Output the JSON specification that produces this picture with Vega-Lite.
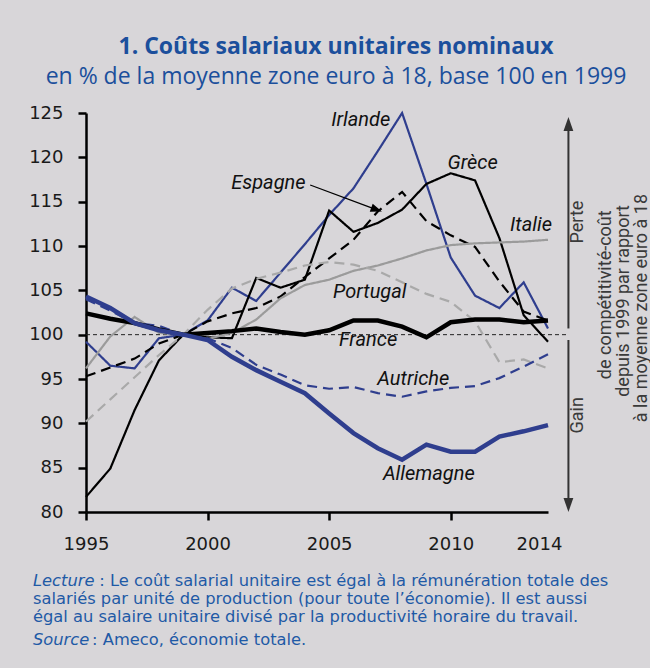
{
  "$schema": "https://vega.github.io/schema/vega-lite/v6.json",
  "width": 462,
  "height": 399,
  "autosize": {"type": "none"},
  "padding": {"left": 86, "top": 113, "right": 102, "bottom": 156},
  "background": "#D8D6D9",
  "config": {"view": {"stroke": null}, "font": "Roboto"},
  "title": {
    "text": "1. Coûts salariaux unitaires nominaux",
    "subtitle": "en % de la moyenne zone euro à 18, base 100 en 1999",
    "anchor": "middle",
    "dx": 19,
    "offset": 15,
    "font": "Open Sans",
    "fontSize": 23,
    "fontWeight": "bold",
    "color": "#1B4F9C",
    "subtitleFont": "Open Sans",
    "subtitleFontSize": 23,
    "subtitleColor": "#1B4F9C",
    "subtitlePadding": 7
  },
  "datasets": {
    "series": [
      {"country":"Irlande","year":1995,"value":99.2},{"country":"Irlande","year":1996,"value":96.5},{"country":"Irlande","year":1997,"value":96.2},{"country":"Irlande","year":1998,"value":99.6},{"country":"Irlande","year":1999,"value":100},{"country":"Irlande","year":2000,"value":101.6},{"country":"Irlande","year":2001,"value":105.3},{"country":"Irlande","year":2002,"value":103.8},{"country":"Irlande","year":2003,"value":107.0},{"country":"Irlande","year":2004,"value":110.2},{"country":"Irlande","year":2005,"value":113.5},{"country":"Irlande","year":2006,"value":116.5},{"country":"Irlande","year":2007,"value":120.7},{"country":"Irlande","year":2008,"value":125.0},{"country":"Irlande","year":2009,"value":117.0},{"country":"Irlande","year":2010,"value":108.7},{"country":"Irlande","year":2011,"value":104.4},{"country":"Irlande","year":2012,"value":103.0},{"country":"Irlande","year":2013,"value":105.9},{"country":"Irlande","year":2014,"value":100.7},
      {"country":"Grèce","year":1995,"value":81.7},{"country":"Grèce","year":1996,"value":84.9},{"country":"Grèce","year":1997,"value":91.5},{"country":"Grèce","year":1998,"value":97.1},{"country":"Grèce","year":1999,"value":100},{"country":"Grèce","year":2000,"value":99.7},{"country":"Grèce","year":2001,"value":99.6},{"country":"Grèce","year":2002,"value":106.4},{"country":"Grèce","year":2003,"value":105.3},{"country":"Grèce","year":2004,"value":106.2},{"country":"Grèce","year":2005,"value":114.0},{"country":"Grèce","year":2006,"value":111.6},{"country":"Grèce","year":2007,"value":112.6},{"country":"Grèce","year":2008,"value":114.1},{"country":"Grèce","year":2009,"value":117.0},{"country":"Grèce","year":2010,"value":118.2},{"country":"Grèce","year":2011,"value":117.4},{"country":"Grèce","year":2012,"value":110.9},{"country":"Grèce","year":2013,"value":102.2},{"country":"Grèce","year":2014,"value":99.2},
      {"country":"Espagne","year":1995,"value":95.3},{"country":"Espagne","year":1996,"value":96.3},{"country":"Espagne","year":1997,"value":97.3},{"country":"Espagne","year":1998,"value":99.0},{"country":"Espagne","year":1999,"value":100},{"country":"Espagne","year":2000,"value":101.5},{"country":"Espagne","year":2001,"value":102.4},{"country":"Espagne","year":2002,"value":103.0},{"country":"Espagne","year":2003,"value":104.3},{"country":"Espagne","year":2004,"value":106.5},{"country":"Espagne","year":2005,"value":108.6},{"country":"Espagne","year":2006,"value":110.7},{"country":"Espagne","year":2007,"value":113.9},{"country":"Espagne","year":2008,"value":116.1},{"country":"Espagne","year":2009,"value":112.8},{"country":"Espagne","year":2010,"value":111.2},{"country":"Espagne","year":2011,"value":109.9},{"country":"Espagne","year":2012,"value":106.0},{"country":"Espagne","year":2013,"value":102.6},{"country":"Espagne","year":2014,"value":101.6},
      {"country":"Italie","year":1995,"value":96.2},{"country":"Italie","year":1996,"value":99.8},{"country":"Italie","year":1997,"value":102.0},{"country":"Italie","year":1998,"value":100.2},{"country":"Italie","year":1999,"value":100},{"country":"Italie","year":2000,"value":99.5},{"country":"Italie","year":2001,"value":100.2},{"country":"Italie","year":2002,"value":101.7},{"country":"Italie","year":2003,"value":104.1},{"country":"Italie","year":2004,"value":105.6},{"country":"Italie","year":2005,"value":106.2},{"country":"Italie","year":2006,"value":107.2},{"country":"Italie","year":2007,"value":107.8},{"country":"Italie","year":2008,"value":108.6},{"country":"Italie","year":2009,"value":109.5},{"country":"Italie","year":2010,"value":110.1},{"country":"Italie","year":2011,"value":110.3},{"country":"Italie","year":2012,"value":110.4},{"country":"Italie","year":2013,"value":110.5},{"country":"Italie","year":2014,"value":110.7},
      {"country":"Portugal","year":1995,"value":90.2},{"country":"Portugal","year":1996,"value":92.7},{"country":"Portugal","year":1997,"value":95.2},{"country":"Portugal","year":1998,"value":97.7},{"country":"Portugal","year":1999,"value":100},{"country":"Portugal","year":2000,"value":102.8},{"country":"Portugal","year":2001,"value":105.2},{"country":"Portugal","year":2002,"value":106.3},{"country":"Portugal","year":2003,"value":107.0},{"country":"Portugal","year":2004,"value":107.8},{"country":"Portugal","year":2005,"value":108.2},{"country":"Portugal","year":2006,"value":107.9},{"country":"Portugal","year":2007,"value":107.2},{"country":"Portugal","year":2008,"value":105.9},{"country":"Portugal","year":2009,"value":104.6},{"country":"Portugal","year":2010,"value":103.7},{"country":"Portugal","year":2011,"value":101.5},{"country":"Portugal","year":2012,"value":96.9},{"country":"Portugal","year":2013,"value":97.2},{"country":"Portugal","year":2014,"value":96.2},
      {"country":"France","year":1995,"value":102.4},{"country":"France","year":1996,"value":101.8},{"country":"France","year":1997,"value":101.3},{"country":"France","year":1998,"value":100.6},{"country":"France","year":1999,"value":100},{"country":"France","year":2000,"value":100.2},{"country":"France","year":2001,"value":100.4},{"country":"France","year":2002,"value":100.7},{"country":"France","year":2003,"value":100.3},{"country":"France","year":2004,"value":100.0},{"country":"France","year":2005,"value":100.5},{"country":"France","year":2006,"value":101.6},{"country":"France","year":2007,"value":101.6},{"country":"France","year":2008,"value":100.9},{"country":"France","year":2009,"value":99.7},{"country":"France","year":2010,"value":101.4},{"country":"France","year":2011,"value":101.7},{"country":"France","year":2012,"value":101.7},{"country":"France","year":2013,"value":101.4},{"country":"France","year":2014,"value":101.6},
      {"country":"Allemagne","year":1995,"value":104.3},{"country":"Allemagne","year":1996,"value":103.0},{"country":"Allemagne","year":1997,"value":101.3},{"country":"Allemagne","year":1998,"value":100.5},{"country":"Allemagne","year":1999,"value":100},{"country":"Allemagne","year":2000,"value":99.4},{"country":"Allemagne","year":2001,"value":97.5},{"country":"Allemagne","year":2002,"value":96.0},{"country":"Allemagne","year":2003,"value":94.7},{"country":"Allemagne","year":2004,"value":93.4},{"country":"Allemagne","year":2005,"value":91.1},{"country":"Allemagne","year":2006,"value":88.9},{"country":"Allemagne","year":2007,"value":87.2},{"country":"Allemagne","year":2008,"value":85.9},{"country":"Allemagne","year":2009,"value":87.6},{"country":"Allemagne","year":2010,"value":86.8},{"country":"Allemagne","year":2011,"value":86.8},{"country":"Allemagne","year":2012,"value":88.5},{"country":"Allemagne","year":2013,"value":89.1},{"country":"Allemagne","year":2014,"value":89.8},
      {"country":"Autriche","year":1995,"value":104.0},{"country":"Autriche","year":1996,"value":102.7},{"country":"Autriche","year":1997,"value":101.3},{"country":"Autriche","year":1998,"value":101.0},{"country":"Autriche","year":1999,"value":100},{"country":"Autriche","year":2000,"value":99.6},{"country":"Autriche","year":2001,"value":98.5},{"country":"Autriche","year":2002,"value":96.6},{"country":"Autriche","year":2003,"value":95.5},{"country":"Autriche","year":2004,"value":94.3},{"country":"Autriche","year":2005,"value":93.9},{"country":"Autriche","year":2006,"value":94.1},{"country":"Autriche","year":2007,"value":93.4},{"country":"Autriche","year":2008,"value":93.0},{"country":"Autriche","year":2009,"value":93.6},{"country":"Autriche","year":2010,"value":94.0},{"country":"Autriche","year":2011,"value":94.2},{"country":"Autriche","year":2012,"value":95.1},{"country":"Autriche","year":2013,"value":96.4},{"country":"Autriche","year":2014,"value":97.8}
    ],
    "labels": [
      {"label":"Irlande","year":2006.3,"value":124.2},
      {"label":"Grèce","year":2010.9,"value":119.4},
      {"label":"Espagne","year":2002.5,"value":117.1},
      {"label":"Italie","year":2013.3,"value":112.4},
      {"label":"Portugal","year":2006.67,"value":104.8},
      {"label":"France","year":2006.6,"value":99.4},
      {"label":"Autriche","year":2008.46,"value":95.0},
      {"label":"Allemagne","year":2009.1,"value":84.3}
    ],
    "side": [
      {"text":"Perte","year":2015.25,"value":112.7},
      {"text":"Gain","year":2015.25,"value":90.9},
      {"text":"de compétitivité-coût","year":2016.4,"value":104.5},
      {"text":"depuis 1999 par rapport","year":2017.14,"value":103.8},
      {"text":"à la moyenne zone euro à 18","year":2017.88,"value":103.0}
    ],
    "footItalic": [
      {"text":"Lecture","year":1992.82,"value":72.22},
      {"text":"Source","year":1992.82,"value":65.57}
    ],
    "footNormal": [
      {"text":": Le coût salarial unitaire est égal à la rémunération totale des","year":1995.55,"value":72.22},
      {"text":"salariés par unité de production (pour toute l’économie). Il est aussi","year":1992.82,"value":70.2},
      {"text":"égal au salaire unitaire divisé par la productivité horaire du travail.","year":1992.82,"value":68.18},
      {"text":": Ameco, économie totale.","year":1995.25,"value":65.57}
    ]
  },
  "layer": [
    {
      "data": {"values": [{"year": 1995, "year2": 2014.75, "value": 100}]},
      "mark": {"type": "rule", "strokeDash": [4, 3], "color": "#222222", "strokeWidth": 1},
      "encoding": {
        "x": {"field": "year", "type": "quantitative", "title": null},
        "x2": {"field": "year2"},
        "y": {"field": "value", "type": "quantitative", "title": null}
      }
    },
    {
      "data": {"name": "series"},
      "transform": [{"filter": "datum.country != 'France' && datum.country != 'Allemagne'"}],
      "mark": {"type": "line", "strokeCap": "butt", "strokeWidth": 2.2},
      "encoding": {
        "x": {
          "field": "year", "type": "quantitative", "title": null,
          "scale": {"domain": [1995, 2014], "nice": false, "zero": false},
          "axis": {
            "values": [1995, 2000, 2005, 2010, 2014], "format": "d", "grid": false,
            "domainColor": "#000000", "domainWidth": 2.5, "tickColor": "#000000", "tickWidth": 2.5, "tickSize": 8,
            "labelFont": "DejaVu Sans", "labelFontSize": 18, "labelColor": "#1a1a1a", "labelPadding": 15,
            "labelFlush": false, "labelOverlap": false,
            "tickOpacity": {"condition": {"test": "datum.value == 2014", "value": 0}, "value": 1},
            "labelOffset": {"condition": {"test": "datum.value == 2014", "value": -9}, "value": 0}
          }
        },
        "y": {
          "field": "value", "type": "quantitative", "title": null,
          "scale": {"domain": [80, 125], "nice": false, "zero": false},
          "axis": {
            "values": [80, 85, 90, 95, 100, 105, 110, 115, 120, 125], "grid": false,
            "domainColor": "#000000", "domainWidth": 2.5, "tickColor": "#000000", "tickWidth": 2.5, "tickSize": 8,
            "labelFont": "DejaVu Sans", "labelFontSize": 18, "labelColor": "#1a1a1a", "labelPadding": 15,
            "labelFlush": false, "labelOverlap": false
          }
        },
        "color": {
          "field": "country", "type": "nominal", "legend": null,
          "scale": {
            "domain": ["Italie", "Portugal", "Espagne", "Grèce", "Irlande", "Autriche", "France", "Allemagne"],
            "range": ["#9B9B9B", "#A9A9A9", "#000000", "#000000", "#2F3E8E", "#2F3E8E", "#000000", "#2F3E8E"]
          }
        },
        "strokeDash": {
          "field": "country", "type": "nominal", "legend": null,
          "scale": {
            "domain": ["Italie", "Portugal", "Espagne", "Grèce", "Irlande", "Autriche", "France", "Allemagne"],
            "range": [[1, 0], [10, 6], [10, 6], [1, 0], [1, 0], [10, 6], [1, 0], [1, 0]]
          }
        }
      }
    },
    {
      "data": {"name": "series"},
      "transform": [{"filter": "datum.country == 'France' || datum.country == 'Allemagne'"}],
      "mark": {"type": "line", "strokeCap": "butt", "strokeWidth": 4.5},
      "encoding": {
        "x": {"field": "year", "type": "quantitative", "title": null},
        "y": {"field": "value", "type": "quantitative", "title": null},
        "color": {"field": "country", "type": "nominal", "legend": null}
      }
    },
    {
      "data": {"name": "labels"},
      "mark": {"type": "text", "font": "Roboto", "fontStyle": "italic", "fontSize": 20, "color": "#111111", "align": "center", "baseline": "middle"},
      "encoding": {
        "x": {"field": "year", "type": "quantitative", "title": null},
        "y": {"field": "value", "type": "quantitative", "title": null},
        "text": {"field": "label"}
      }
    },
    {
      "data": {"values": [{"year": 2004.22, "value": 116.88, "year2": 2006.8, "value2": 114.25}]},
      "mark": {"type": "rule", "color": "#000000", "strokeWidth": 1.3},
      "encoding": {
        "x": {"field": "year", "type": "quantitative", "title": null},
        "y": {"field": "value", "type": "quantitative", "title": null},
        "x2": {"field": "year2"},
        "y2": {"field": "value2"}
      }
    },
    {
      "data": {"values": [{"year": 2006.95, "value": 114.1}]},
      "mark": {"type": "point", "shape": "M0,-1L0.75,1L-0.75,1Z", "filled": true, "color": "#000000", "opacity": 1, "size": 130, "angle": 110},
      "encoding": {
        "x": {"field": "year", "type": "quantitative", "title": null},
        "y": {"field": "value", "type": "quantitative", "title": null}
      }
    },
    {
      "data": {"values": [{"year": 2014.84, "value": 100.7, "value2": 123.8}, {"year": 2014.84, "value": 99.4, "value2": 80.8}]},
      "mark": {"type": "rule", "color": "#333333", "strokeWidth": 2},
      "encoding": {
        "x": {"field": "year", "type": "quantitative", "title": null},
        "y": {"field": "value", "type": "quantitative", "title": null},
        "y2": {"field": "value2"}
      }
    },
    {
      "data": {"values": [{"year": 2014.84, "value": 123.76}]},
      "mark": {"type": "point", "shape": "M0,-1L0.7,1L-0.7,1Z", "filled": true, "color": "#333333", "opacity": 1, "size": 196},
      "encoding": {
        "x": {"field": "year", "type": "quantitative", "title": null},
        "y": {"field": "value", "type": "quantitative", "title": null}
      }
    },
    {
      "data": {"values": [{"year": 2014.84, "value": 80.79}]},
      "mark": {"type": "point", "shape": "M0,1L0.7,-1L-0.7,-1Z", "filled": true, "color": "#333333", "opacity": 1, "size": 196},
      "encoding": {
        "x": {"field": "year", "type": "quantitative", "title": null},
        "y": {"field": "value", "type": "quantitative", "title": null}
      }
    },
    {
      "data": {"name": "side"},
      "mark": {"type": "text", "font": "Roboto", "fontSize": 18, "color": "#3A3A3A", "angle": 270, "align": "center", "baseline": "middle"},
      "encoding": {
        "x": {"field": "year", "type": "quantitative", "title": null},
        "y": {"field": "value", "type": "quantitative", "title": null},
        "text": {"field": "text"}
      }
    },
    {
      "data": {"name": "footItalic"},
      "mark": {"type": "text", "font": "DejaVu Sans", "fontStyle": "italic", "fontSize": 16.3, "color": "#1F5AA6", "align": "left", "baseline": "middle"},
      "encoding": {
        "x": {"field": "year", "type": "quantitative", "title": null},
        "y": {"field": "value", "type": "quantitative", "title": null},
        "text": {"field": "text"}
      }
    },
    {
      "data": {"name": "footNormal"},
      "mark": {"type": "text", "font": "DejaVu Sans", "fontSize": 16.3, "color": "#1F5AA6", "align": "left", "baseline": "middle"},
      "encoding": {
        "x": {"field": "year", "type": "quantitative", "title": null},
        "y": {"field": "value", "type": "quantitative", "title": null},
        "text": {"field": "text"}
      }
    }
  ]
}
